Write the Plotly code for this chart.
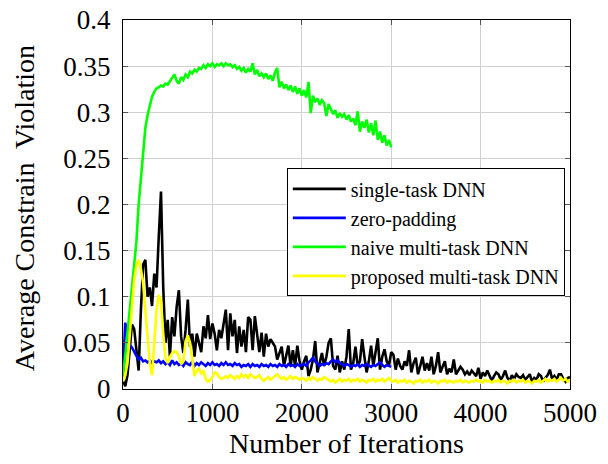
import plotly.graph_objects as go

step = 25
iters_full = list(range(0, 5001, step))
iters_3000 = list(range(0, 3001, step))

single_task = [
    0.010, 0.003, 0.015, 0.045, 0.070, 0.065, 0.045, 0.020, 0.085, 0.135,
    0.140, 0.100, 0.110, 0.090, 0.125, 0.110, 0.165, 0.214, 0.110, 0.050,
    0.075, 0.035, 0.078, 0.057, 0.089, 0.107, 0.057, 0.039, 0.064, 0.097,
    0.046, 0.060, 0.035, 0.060, 0.050, 0.040, 0.068, 0.055, 0.080, 0.054,
    0.071, 0.060, 0.042, 0.064, 0.055, 0.070, 0.086, 0.042, 0.082, 0.057,
    0.075, 0.039, 0.068, 0.046, 0.064, 0.040, 0.078, 0.075, 0.042, 0.079,
    0.057, 0.040, 0.061, 0.035, 0.060, 0.046, 0.054, 0.050, 0.046, 0.032,
    0.039, 0.046, 0.025, 0.035, 0.047, 0.025, 0.042, 0.025, 0.047, 0.030,
    0.021, 0.030, 0.036, 0.014, 0.021, 0.032, 0.052, 0.018, 0.030, 0.039,
    0.025, 0.035, 0.050, 0.055, 0.025, 0.021, 0.036, 0.018, 0.030, 0.021,
    0.035, 0.065, 0.021, 0.028, 0.046, 0.025, 0.030, 0.054, 0.035, 0.018,
    0.030, 0.047, 0.025, 0.040, 0.055, 0.021, 0.035, 0.043, 0.030, 0.025,
    0.040, 0.037, 0.021, 0.033, 0.025, 0.021, 0.030, 0.025, 0.042, 0.018,
    0.028, 0.034, 0.016, 0.025, 0.035, 0.020, 0.028, 0.020, 0.035, 0.016,
    0.025, 0.040, 0.018, 0.024, 0.030, 0.016, 0.022, 0.018, 0.032, 0.016,
    0.020, 0.024, 0.021, 0.016, 0.019, 0.015, 0.020, 0.017, 0.014, 0.023,
    0.011, 0.018, 0.014, 0.020, 0.015, 0.009, 0.014, 0.018, 0.016, 0.010,
    0.014, 0.020, 0.012, 0.009, 0.015, 0.011, 0.016, 0.013, 0.012, 0.015,
    0.010, 0.013, 0.016, 0.008, 0.012, 0.010, 0.016, 0.014, 0.008, 0.012,
    0.015, 0.021, 0.011, 0.014, 0.010, 0.016, 0.016, 0.011, 0.008, 0.012,
    0.013,
]

zero_padding = [
    0.018, 0.072, 0.055, 0.048, 0.045, 0.040, 0.036, 0.032, 0.034, 0.030,
    0.031, 0.029, 0.031, 0.028, 0.030, 0.029, 0.031, 0.028, 0.030, 0.027,
    0.029, 0.026, 0.031, 0.027, 0.029, 0.026, 0.028, 0.025, 0.029, 0.027,
    0.026, 0.030, 0.025, 0.028, 0.026, 0.029, 0.027, 0.025, 0.028, 0.026,
    0.029, 0.026, 0.027, 0.025, 0.028, 0.026, 0.029, 0.026, 0.027, 0.025,
    0.028, 0.026, 0.027, 0.024, 0.026, 0.025, 0.027, 0.024, 0.027, 0.025,
    0.026, 0.024, 0.027, 0.025, 0.026, 0.024, 0.027, 0.025, 0.026, 0.024,
    0.027, 0.025, 0.026, 0.024, 0.027, 0.025, 0.026, 0.024, 0.027, 0.025,
    0.026, 0.027, 0.025, 0.029, 0.031, 0.034, 0.030, 0.027, 0.025, 0.027,
    0.026, 0.028, 0.027, 0.030, 0.032, 0.029, 0.031, 0.028, 0.027, 0.025,
    0.027, 0.026, 0.024, 0.026, 0.025, 0.027, 0.024, 0.026, 0.025, 0.027,
    0.025, 0.024, 0.026, 0.025, 0.027, 0.029, 0.026, 0.024, 0.026, 0.025,
    0.024,
]

naive_multi = [
    0.012, 0.035, 0.060, 0.085, 0.110, 0.135, 0.160, 0.200, 0.228, 0.262,
    0.283, 0.297, 0.309, 0.317, 0.322, 0.326, 0.327, 0.329, 0.328, 0.331,
    0.330, 0.334, 0.338, 0.341, 0.334, 0.331, 0.338, 0.335, 0.341, 0.338,
    0.344, 0.342, 0.346, 0.344, 0.348, 0.347, 0.351, 0.348, 0.352, 0.350,
    0.353, 0.349, 0.352, 0.351, 0.353, 0.350, 0.353, 0.351, 0.352, 0.349,
    0.351, 0.347, 0.349, 0.345, 0.348, 0.343, 0.347, 0.344, 0.353, 0.341,
    0.346, 0.339, 0.342, 0.338, 0.342, 0.336, 0.340, 0.334, 0.343, 0.348,
    0.327, 0.333, 0.326, 0.330, 0.324, 0.329, 0.322, 0.328, 0.320, 0.326,
    0.318, 0.324, 0.316, 0.333, 0.299, 0.318, 0.311, 0.315, 0.308, 0.313,
    0.310, 0.296, 0.309, 0.304, 0.298, 0.302, 0.294, 0.299, 0.295, 0.298,
    0.292, 0.297, 0.290, 0.293, 0.286, 0.301, 0.279, 0.290, 0.283, 0.292,
    0.278, 0.288, 0.275, 0.291, 0.270, 0.279, 0.267, 0.275, 0.264, 0.270,
    0.262,
]

proposed_multi = [
    0.008, 0.015, 0.028, 0.055, 0.090, 0.118, 0.134, 0.140, 0.130, 0.115,
    0.085, 0.055, 0.028, 0.015, 0.045, 0.085, 0.102, 0.095, 0.060, 0.034,
    0.028, 0.035, 0.039, 0.041, 0.040, 0.036, 0.027, 0.030, 0.052, 0.058,
    0.050, 0.030, 0.014, 0.020, 0.022, 0.017, 0.020, 0.011, 0.008, 0.010,
    0.013, 0.018, 0.017, 0.013, 0.011, 0.012, 0.014, 0.012, 0.015, 0.013,
    0.011, 0.014, 0.012, 0.016, 0.013, 0.015, 0.012, 0.016, 0.014, 0.012,
    0.013, 0.015, 0.011, 0.009, 0.011, 0.013, 0.010, 0.012, 0.014, 0.016,
    0.013, 0.011, 0.013, 0.010, 0.012, 0.014, 0.011, 0.013, 0.012, 0.010,
    0.012, 0.011, 0.009, 0.012, 0.010, 0.013, 0.011, 0.009, 0.011, 0.010,
    0.013, 0.011, 0.009, 0.008, 0.010, 0.007, 0.009, 0.011, 0.008, 0.010,
    0.009, 0.011, 0.008, 0.010, 0.009, 0.011, 0.008, 0.010, 0.009, 0.007,
    0.010, 0.009, 0.011, 0.008, 0.010, 0.009, 0.011, 0.008, 0.010, 0.012,
    0.009, 0.008, 0.010, 0.007, 0.009, 0.008, 0.010, 0.007, 0.009, 0.008,
    0.006, 0.009, 0.008, 0.010, 0.007, 0.009, 0.008, 0.010, 0.007, 0.009,
    0.008, 0.006, 0.009, 0.008, 0.010, 0.007, 0.009, 0.008, 0.007, 0.009,
    0.008, 0.010, 0.007, 0.009, 0.008, 0.007, 0.009, 0.008, 0.010, 0.008,
    0.009, 0.007, 0.010, 0.008, 0.009, 0.007, 0.009, 0.008, 0.010, 0.007,
    0.009, 0.008, 0.006, 0.009, 0.008, 0.010, 0.007, 0.009, 0.008, 0.010,
    0.007, 0.009, 0.008, 0.006, 0.009, 0.008, 0.010, 0.007, 0.009, 0.011,
    0.008, 0.010, 0.009, 0.011, 0.008, 0.010, 0.012, 0.009, 0.011, 0.008,
    0.010,
]

x_ticks = [0, 1000, 2000, 3000, 4000, 5000]
y_ticks = [0, 0.05, 0.1, 0.15, 0.2, 0.25, 0.3, 0.35, 0.4]
y_tick_text = ["0", "0.05", "0.1", "0.15", "0.2", "0.25", "0.3", "0.35", "0.4"]
x_title = "Number of Iterations"
y_title = "Average Constrain  Violation"

FONT = "Liberation Serif, Times New Roman, serif"

fig = go.Figure()
fig.add_trace(go.Scatter(x=iters_full, y=single_task, mode="lines",
                         name="single-task DNN", line=dict(color="#000000", width=2.6)))
fig.add_trace(go.Scatter(x=iters_3000, y=zero_padding, mode="lines",
                         name="zero-padding", line=dict(color="#0000ff", width=2.6)))
fig.add_trace(go.Scatter(x=iters_3000, y=naive_multi, mode="lines",
                         name="naive multi-task DNN", line=dict(color="#00ff00", width=2.6)))
fig.add_trace(go.Scatter(x=iters_full, y=proposed_multi, mode="lines",
                         name="proposed multi-task DNN", line=dict(color="#ffff00", width=2.6)))

axis_common = dict(
    automargin=False,
    showline=True, linecolor="black", linewidth=1, mirror="allticks",
    ticks="inside", ticklen=5, tickcolor="#555555", tickwidth=1,
    showgrid=True, gridcolor="#d0d0d0", gridwidth=1, zeroline=False,
    ticklabeloverflow="allow",
    tickfont=dict(family=FONT, size=27, color="black"),
)

fig.update_layout(
    template="none",
    width=608, height=464,
    margin=dict(l=123, r=38, t=20, b=75),
    paper_bgcolor="white", plot_bgcolor="white",
    font=dict(family=FONT, color="black"),
    showlegend=True,
    legend=dict(
        x=0.3665, y=0.598, xanchor="left", yanchor="top",
        bgcolor="white", bordercolor="black", borderwidth=1,
        font=dict(family=FONT, size=20, color="black"),
        itemwidth=53, tracegroupgap=0,
    ),
    xaxis=dict(range=[0, 5000], tickvals=x_ticks, **axis_common),
    yaxis=dict(range=[0, 0.4], tickvals=y_ticks, ticktext=y_tick_text,
               ticklabelstandoff=6, **axis_common),
    annotations=[
        dict(text=x_title, xref="paper", yref="paper", x=0.5, y=0,
             xanchor="center", yanchor="middle", yshift=-54, showarrow=False,
             font=dict(family=FONT, size=28, color="black")),
        dict(text=y_title, xref="paper", yref="paper", x=0, y=0.49,
             xanchor="center", yanchor="middle", xshift=-99, showarrow=False,
             textangle=-90, font=dict(family=FONT, size=28, color="black")),
    ],
)

# Remove the default 8px page margin so the 608x464 figure fills the window exactly.
fig.write_html(
    "out.html",
    config={"displayModeBar": False},
    post_script="document.body.style.margin='0';document.body.style.overflow='hidden';",
)
